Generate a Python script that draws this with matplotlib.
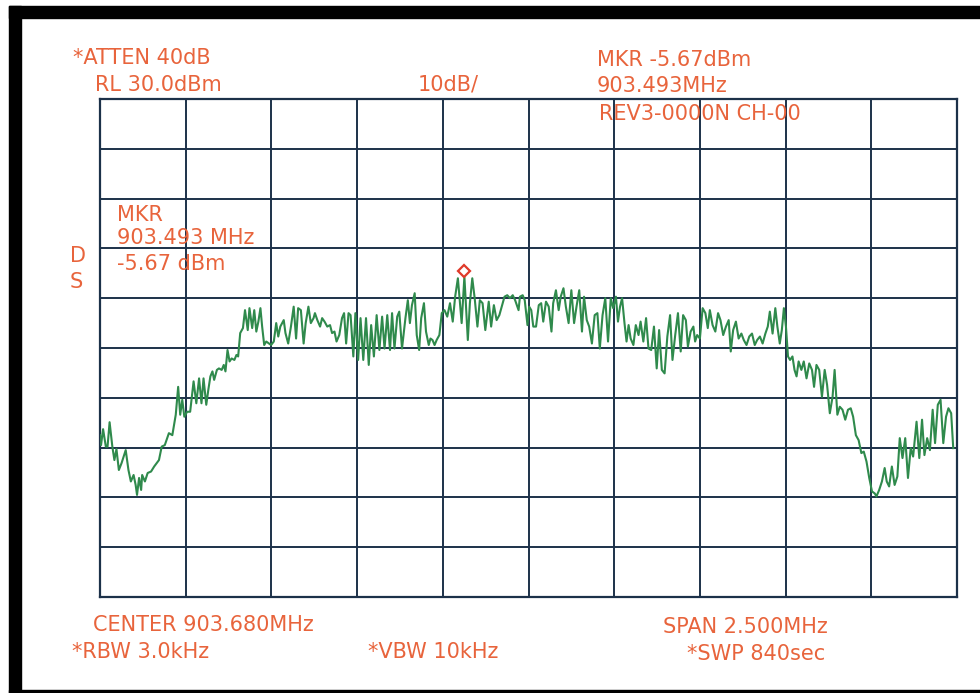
import numpy as np
import matplotlib
matplotlib.use("Agg")
import matplotlib.pyplot as plt
import matplotlib.transforms as mtransforms
from matplotlib.patches import Rectangle

# Figure size in pixels (dpi 100).
W, H = 980, 693

# Analyzer settings.
center_mhz = 903.680
span_mhz = 2.500
ref_level = 30.0
db_per_div = 10
marker_mhz = 903.493
marker_dbm = -5.67

# Trace: frequency (MHz) and level (dBm).
freq_mhz = [
    902.430, 902.433, 902.439, 902.447, 902.452, 902.458, 902.466, 902.472, 902.478, 902.485,
    902.493, 902.505, 902.513, 902.520, 902.528, 902.534, 902.538, 902.544, 902.550, 902.553,
    902.561, 902.569, 902.579, 902.588, 902.602, 902.610, 902.619, 902.631, 902.641, 902.651,
    902.658, 902.664, 902.670, 902.676, 902.684, 902.693, 902.703, 902.711, 902.719, 902.726,
    902.732, 902.740, 902.746, 902.752, 902.758, 902.763, 902.771, 902.777, 902.785, 902.791,
    902.796, 902.802, 902.808, 902.814, 902.822, 902.828, 902.833, 902.839, 902.847, 902.853,
    902.861, 902.866, 902.874, 902.880, 902.886, 902.892, 902.898, 902.903, 902.909, 902.915,
    902.923, 902.929, 902.937, 902.944, 902.950, 902.956, 902.966, 902.971, 902.979, 902.987,
    902.995, 903.002, 903.008, 903.016, 903.024, 903.030, 903.038, 903.045, 903.053,
    903.057, 903.064, 903.072, 903.078, 903.085, 903.093, 903.101, 903.107, 903.114, 903.120,
    903.128, 903.136, 903.142, 903.148, 903.155, 903.161, 903.169, 903.175, 903.183, 903.190,
    903.198, 903.206, 903.214, 903.221, 903.229, 903.237, 903.245, 903.253, 903.260, 903.268,
    903.276, 903.282, 903.289, 903.297, 903.303, 903.311, 903.321, 903.328, 903.334, 903.340,
    903.348, 903.354, 903.361, 903.367, 903.375, 903.381, 903.389, 903.394, 903.400, 903.406,
    903.412, 903.420, 903.427, 903.435, 903.443, 903.451, 903.459, 903.466, 903.474, 903.485,
    903.493, 903.503, 903.509, 903.516, 903.523, 903.531, 903.538, 903.546, 903.554, 903.564,
    903.571, 903.579, 903.587, 903.595, 903.602, 903.610, 903.618, 903.626, 903.634, 903.641,
    903.651,
    903.655, 903.663, 903.669, 903.677, 903.682, 903.688, 903.694, 903.702, 903.710, 903.717,
    903.723, 903.731, 903.739, 903.747, 903.752, 903.760, 903.768, 903.774, 903.782, 903.789,
    903.797, 903.805, 903.813, 903.820, 903.828, 903.836, 903.842, 903.850, 903.857, 903.865,
    903.873, 903.881, 903.888, 903.896, 903.904, 903.912, 903.920, 903.927, 903.935, 903.941,
    903.947, 903.953, 903.960, 903.966, 903.972, 903.978, 903.986, 903.993, 904.001, 904.007,
    904.015, 904.023, 904.030, 904.038, 904.046, 904.054, 904.061, 904.069, 904.077, 904.085,
    904.093, 904.100, 904.108, 904.116, 904.124, 904.131, 904.139, 904.145, 904.153, 904.161,
    904.166, 904.172, 904.180, 904.188, 904.196, 904.203, 904.209, 904.217, 904.225, 904.233,
    904.240, 904.248, 904.256, 904.264,
    904.270, 904.277, 904.285, 904.293, 904.301, 904.308, 904.316, 904.324, 904.332, 904.340,
    904.347, 904.355, 904.363, 904.371, 904.378, 904.384, 904.392, 904.400, 904.406, 904.413,
    904.419, 904.425, 904.431, 904.437, 904.443, 904.450, 904.456, 904.462, 904.468, 904.476,
    904.483, 904.491, 904.499, 904.507, 904.513, 904.520, 904.528, 904.536, 904.544, 904.551,
    904.559, 904.567, 904.573, 904.581, 904.588, 904.596, 904.604, 904.612, 904.620, 904.627,
    904.635, 904.643, 904.651, 904.658, 904.666, 904.674, 904.682, 904.690, 904.695, 904.703,
    904.711, 904.719, 904.725, 904.732, 904.740, 904.748, 904.756, 904.763, 904.771, 904.779,
    904.787, 904.795, 904.802, 904.812, 904.820, 904.828, 904.835, 904.843, 904.851, 904.859,
    904.866, 904.874, 904.882, 904.890, 904.898, 904.905, 904.913, 904.919,
]
level_dbm = [
    -37.5, -39.5, -36.3, -39.8, -39.8, -34.9, -39.8, -42.5, -40.3, -44.5,
    -43.1, -40.5, -44.5, -46.8, -45.5, -47.5, -49.5, -46.1, -48.5, -45.5,
    -46.8, -45.1, -44.8, -43.8, -42.5, -39.8, -39.5, -37.1, -37.5, -33.4,
    -27.8, -33.4, -30.4, -33.8, -32.8, -32.8, -26.7, -31.1, -26.1, -31.1,
    -26.1, -31.4, -28.4, -25.7, -24.7, -26.4, -24.4, -24.1, -24.4, -23.4,
    -24.7, -20.4, -22.7, -22.1, -22.4, -21.4, -21.7, -17.0, -16.0, -12.4,
    -16.4, -12.0, -16.0, -12.4, -16.7, -14.7, -12.0, -15.7, -19.4, -18.7,
    -19.1, -19.4, -18.7, -15.0, -17.7, -15.7, -14.4, -17.0, -19.1, -15.7,
    -11.7, -18.1, -12.0, -12.4, -19.1, -15.0, -11.7, -15.0, -14.0,
    -13.0, -14.4, -15.7, -14.0, -14.7, -15.7, -15.4, -17.0, -16.7, -18.7,
    -17.4, -14.0, -13.0, -19.1, -13.0, -13.4, -21.7, -13.0, -22.4, -14.0,
    -22.4, -14.0, -23.4, -15.4, -21.7, -13.4, -20.4, -13.7, -20.1, -13.4,
    -20.4, -13.0, -20.1, -13.7, -12.7, -20.1, -14.0, -10.4, -15.0, -11.4,
    -9.0, -17.4, -20.4, -14.0, -11.0, -16.7, -19.4, -18.1, -18.4, -19.4,
    -18.4, -17.4, -13.0, -12.4, -13.7, -11.0, -14.7, -9.7, -6.0, -15.0,
    -5.67, -18.4, -11.0, -6.0, -10.0, -15.7, -10.4, -11.0, -16.4, -10.7,
    -15.7, -11.4, -14.4, -13.4, -11.7, -9.7, -9.4, -10.0, -9.4, -10.4,
    -12.4,
    -9.7, -9.4, -10.4, -15.4, -11.7, -12.4, -15.7, -15.7, -11.4, -11.0,
    -14.7, -10.7, -11.7, -16.7, -11.0, -8.4, -12.4, -9.7, -8.0, -11.7,
    -15.0, -8.4, -15.0, -11.7, -8.4, -16.7, -9.7, -14.4, -15.7, -19.1,
    -13.4, -13.0, -20.1, -13.4, -10.0, -18.7, -10.0, -12.0, -9.7, -14.7,
    -11.7, -10.0, -15.0, -18.7, -15.4, -18.1, -19.4, -15.4, -17.4, -14.7,
    -18.7, -14.0, -20.1, -20.4, -15.7, -24.1, -16.4, -24.4, -25.1, -17.7,
    -13.4, -22.4, -17.4, -13.0, -20.7, -13.4, -14.4, -19.7, -16.7, -15.7,
    -18.7, -17.4, -18.1, -12.0, -13.0, -16.0, -12.4, -15.4, -16.7, -13.0,
    -14.4, -17.4, -15.7, -14.4,
    -20.7, -16.4, -14.7, -18.1, -17.1, -18.4, -19.4, -17.7, -17.1, -19.4,
    -18.4, -17.7, -19.1, -17.1, -15.7, -12.7, -17.1, -12.0, -15.7, -19.1,
    -16.4, -12.0, -15.7, -21.7, -22.4, -21.7, -24.4, -25.7, -22.7, -24.4,
    -22.7, -26.1, -23.1, -24.4, -27.8, -23.4, -24.4, -29.8, -24.4, -27.4,
    -33.1, -29.8, -24.4, -33.4, -31.8, -32.4, -34.4, -32.4, -32.1, -33.8,
    -37.5, -38.5, -41.1, -40.8, -42.8, -46.1, -48.8, -49.2, -49.8, -48.5,
    -46.8, -44.1, -46.8, -47.8, -43.8, -47.5, -45.8, -38.1, -42.1, -38.1,
    -46.1, -40.1, -41.8, -34.8, -42.1, -34.4, -41.5, -38.1, -40.5, -32.4,
    -39.1, -31.4, -30.4, -39.1, -33.8, -32.1, -33.1, -40.1,
]

# Annotation text on the plotter sheet.
top_left = ["*ATTEN 40dB", "RL 30.0dBm"]
scale_label = "10dB/"
top_right = ["MKR -5.67dBm", "903.493MHz", "REV3-0000N CH-00"]
marker_box = ["MKR", "903.493 MHz", "-5.67 dBm"]
side_label = ["D", "S"]
bottom_left = ["CENTER 903.680MHz", "*RBW 3.0kHz", "*VBW 10kHz"]
bottom_right = ["SPAN 2.500MHz", "*SWP 840sec"]

TEXT = "#e8643c"
GRID = "#1c3149"
TRACE = "#2f8a4c"
MARK = "#e03a2a"

fig = plt.figure(figsize=(W / 100, H / 100), dpi=100)
fig.patch.set_facecolor("white")

# Black edges of the scanned sheet.
for x0, y0, w, h in [(9, 6, 971, 12), (9, 6, 12, 687), (9, 690, 971, 3)]:
    fig.patches.append(Rectangle((x0 / W, 1 - (y0 + h) / H), w / W, h / H,
                                 transform=fig.transFigure, color="black", zorder=0))

# Graticule: 10 x 10 divisions.
left, right, top, bottom = 100, 957, 99, 597
ax = fig.add_axes([left / W, 1 - bottom / H, (right - left) / W, (bottom - top) / H])
f0 = center_mhz - span_mhz / 2
f1 = center_mhz + span_mhz / 2
ax.set_xlim(f0, f1)
ax.set_ylim(ref_level - 10 * db_per_div, ref_level)
ax.set_xticks(np.linspace(f0, f1, 11))
ax.set_yticks(np.arange(ref_level - 10 * db_per_div, ref_level + 1, db_per_div))
ax.grid(True, color=GRID, lw=1.4)
ax.tick_params(length=0, labelbottom=False, labelleft=False)
for sp in ax.spines.values():
    sp.set_color(GRID)
    sp.set_linewidth(1.6)
ax.set_facecolor("none")

ax.plot(freq_mhz, level_dbm, color=TRACE, lw=1.5, zorder=3)

# Marker diamond sits just above the peak.
mk_tr = mtransforms.offset_copy(ax.transData, fig=fig, y=6, units="dots")
ax.plot([marker_mhz], [marker_dbm], marker="D", ms=6, mfc="white", mec=MARK,
        mew=1.6, transform=mk_tr, zorder=4, clip_on=False)


def label(x, y, s):
    fig.text(x / W, 1 - y / H, s, ha="left", va="center", color=TEXT,
             fontsize=15, family="DejaVu Sans")


label(73, 58, top_left[0])
label(95, 85, top_left[1])
label(418, 85, scale_label)
label(597, 60, top_right[0])
label(597, 86, top_right[1])
label(599, 114, top_right[2])
label(117, 215, marker_box[0])
label(117, 238, marker_box[1])
label(117, 264, marker_box[2])
label(70, 256, side_label[0])
label(70, 282, side_label[1])
label(93, 625, bottom_left[0])
label(72, 652, bottom_left[1])
label(368, 652, bottom_left[2])
label(663, 627, bottom_right[0])
label(687, 654, bottom_right[1])

fig.savefig("out.png", dpi=100)
